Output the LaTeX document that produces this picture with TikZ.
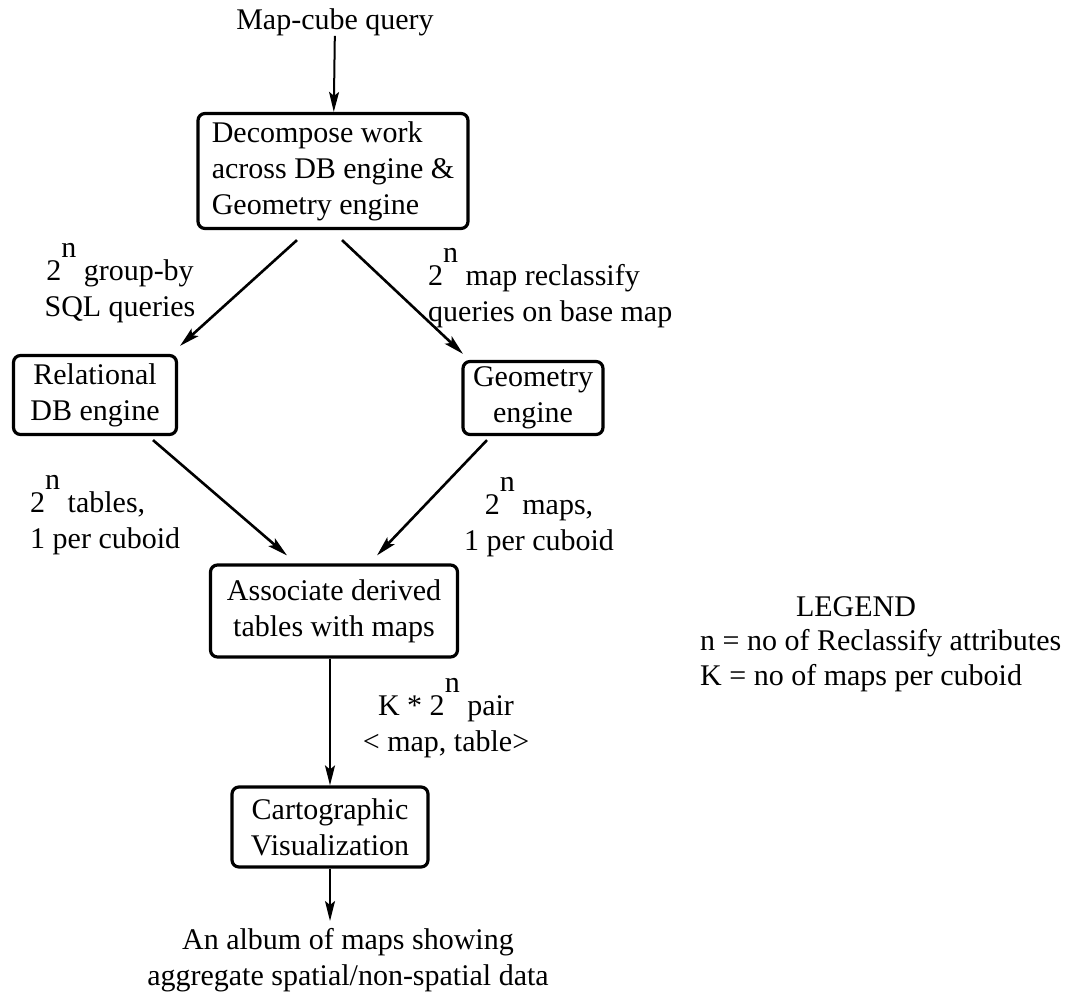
\documentclass[tikz,border=0pt]{standalone}
\usepackage{fontspec}
\setmainfont{Liberation Serif}
\usetikzlibrary{arrows.meta}

\newcommand{\twon}{2\raisebox{0.75em}{n}\ }

\tikzset{
  box/.style={draw, line width=3.2pt, rounded corners=7pt, align=center, inner sep=0pt},
  lbl/.style={align=center, inner sep=0pt},
  arr/.style={-{Stealth[length=20pt,width=10pt,inset=4pt]}, line width=2pt},
  darr/.style={arr, line width=2.6pt},
}

\begin{document}
\begin{tikzpicture}[x=1pt, y=-1pt,
    every node/.style={font=\fontsize{30}{36}\selectfont}
  ]
  \useasboundingbox (0,0) rectangle (1075,1000);

  % main column
  \node[lbl] (query) at (335,22) {Map-cube query};
  \node[box, align=left, minimum width=270pt, minimum height=115pt] (decomp) at (333,171)
    {Decompose work\\across DB engine \&\\Geometry engine};
  \node[box, minimum width=163pt, minimum height=79pt] (rel) at (95,395) {Relational\\DB engine};
  \node[box, minimum width=140pt, minimum height=73pt] (geo) at (533,398) {Geometry\\engine};
  \node[box, minimum width=247pt, minimum height=92pt] (assoc) at (334,611) {Associate derived\\tables with maps};
  \node[box, minimum width=196pt, minimum height=80pt] (carto) at (330,827) {Cartographic\\Visualization};
  \node[lbl] (album) at (348,960) {An album of maps showing\\aggregate spatial/non-spatial data};

  % edge labels
  \node[lbl] (grp) at (120,283) {\twon group-by\\SQL queries};
  \node[lbl, align=left, anchor=west] (recl) at (428,288) {\twon map reclassify\\queries on base map};
  \node[lbl, align=left, anchor=west] (tbl) at (30,515) {\twon tables,\\1 per cuboid};
  \node[lbl] (mps) at (539,517) {\twon maps,\\1 per cuboid};
  \node[lbl] (pair) at (446,718) {K * \twon pair\\< map, table>};

  % legend
  \node[lbl] (legend) at (856,607) {LEGEND};
  \node[lbl, anchor=west] (leg1) at (700,643) {n = no of Reclassify attributes};
  \node[lbl, anchor=west] (leg2) at (700,678) {K = no of maps per cuboid};

  % arrows
  \draw[arr] (query) -- (decomp);
  \draw[darr] ([xshift=-36pt,yshift=-10pt]decomp.south) -- ([xshift=85pt,yshift=8pt]rel.north);
  \draw[darr] ([xshift=9pt,yshift=-10pt]decomp.south) -- ([xshift=-70pt,yshift=6pt]geo.north);
  \draw[darr] ([xshift=58pt,yshift=-4pt]rel.south) -- ([xshift=-47pt,yshift=8pt]assoc.north);
  \draw[darr] ([xshift=-46pt,yshift=-4pt]geo.south) -- ([xshift=43pt,yshift=8pt]assoc.north);
  \draw[arr] (assoc.south -| carto) -- (carto);
  \draw[arr, shorten >=7pt] (carto) -- (carto |- album.north);

\end{tikzpicture}
\end{document}
